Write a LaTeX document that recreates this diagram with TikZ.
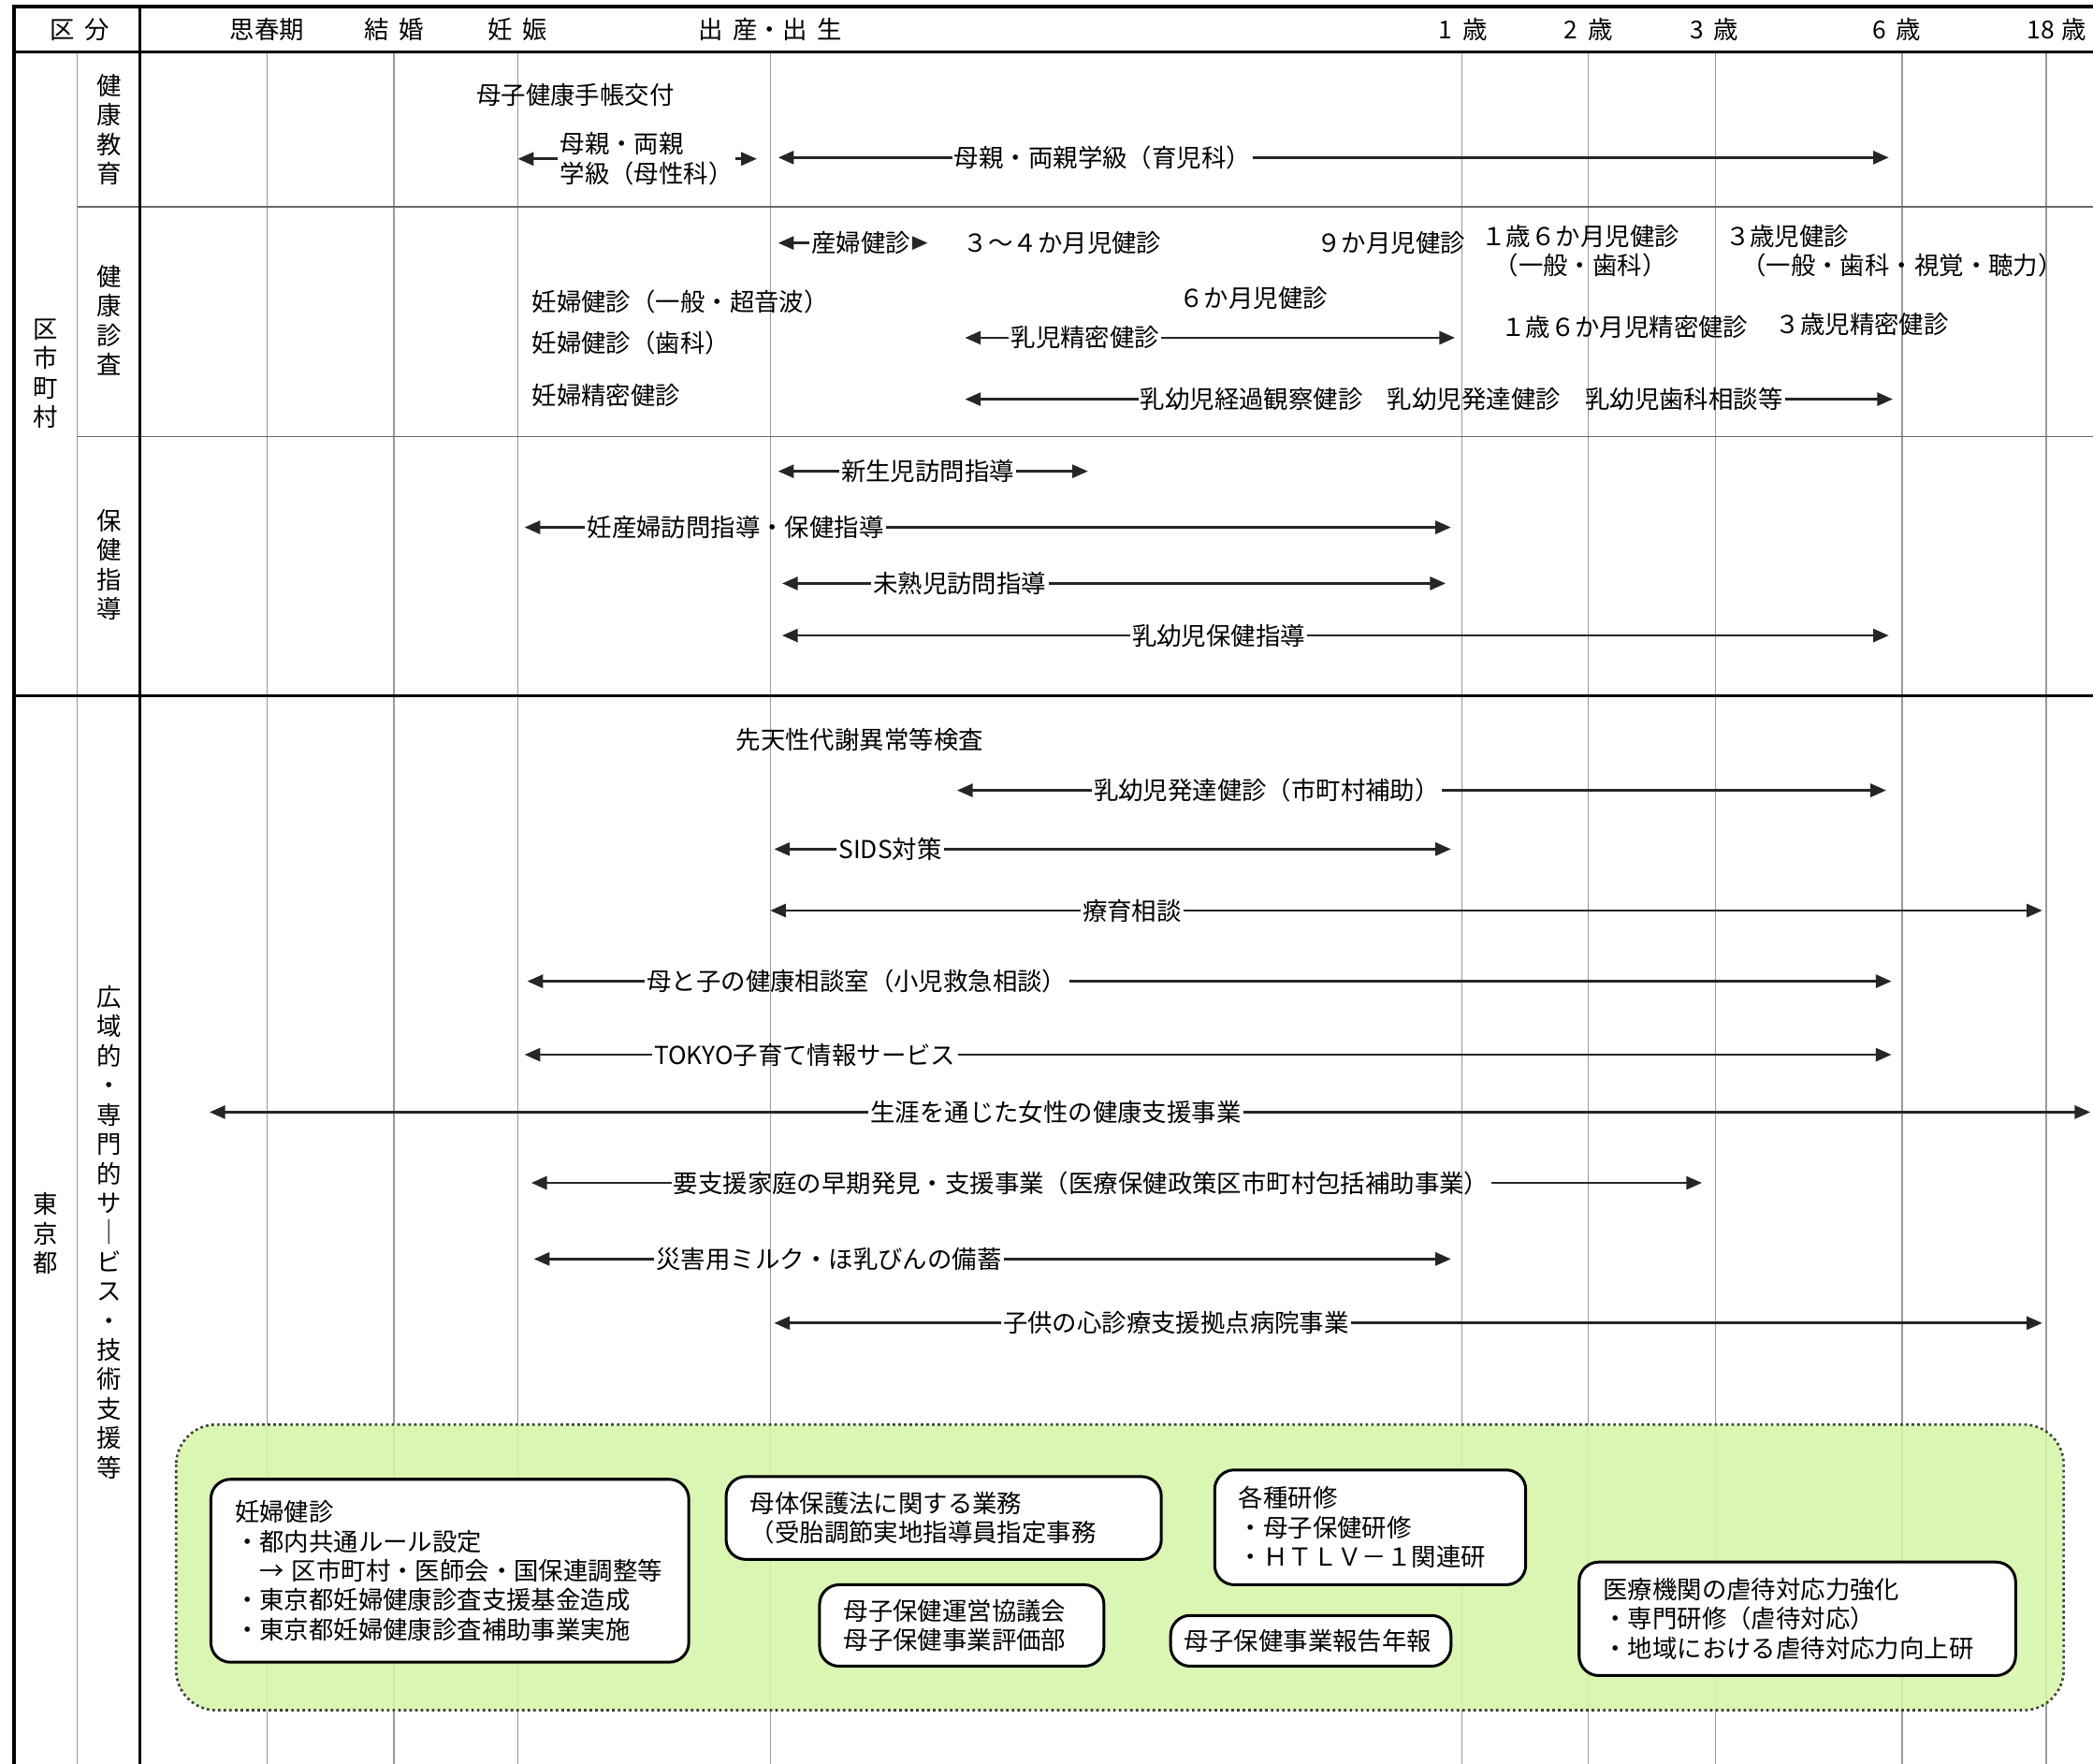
\documentclass[tikz,border=0pt]{standalone}
\usepackage{fontspec}
\setmainfont{Noto Sans CJK JP}
\usepackage{xcolor}
\usepackage{tikz}
\usetikzlibrary{arrows.meta, positioning}

\definecolor{midori}{HTML}{D6F5A8}

\begin{document}
\begin{tikzpicture}[
    x=0.015cm, y=-0.015cm,
    font=\fontsize{7.9pt}{9.4pt}\selectfont,
    >={Triangle[length=5pt, width=4.2pt]},
    lbl/.style={inner sep=0.5pt, align=center},
    lblL/.style={inner sep=0.5pt, align=left, anchor=west},
    tate/.style={inner sep=0pt, align=center},
    seta/.style={->, line width=0.8pt, draw=black!85},
    keisen/.style={draw=black!40, line width=0.4pt},
    wbox/.style={
        rectangle,
        rounded corners=0.22cm,
        draw=black,
        fill=white,
        line width=0.9pt,
        align=left,
        inner xsep=0.27cm,
        inner ysep=0pt
    }
]

    \useasboundingbox (0,0) rectangle (1568,1321);

    % --- Grid ---
    \foreach \gx in {200,295,388,577,1095,1190,1285,1425,1533}
        \draw[keisen] (\gx,39) -- (\gx,1321);
    \draw[keisen] (58,39) -- (58,1321);
    \draw[draw=black!60, line width=0.5pt] (58,155) -- (1568,155);
    \draw[draw=black!60, line width=0.5pt] (58,327) -- (1568,327);
    \draw[line width=0.8pt] (10,521) -- (1568,521);
    \draw[line width=0.9pt] (10,39) -- (1568,39);
    \draw[line width=0.8pt] (105,5) -- (105,1321);
    \draw[line width=1.4pt] (10.5,1321) -- (10.5,5) -- (1568,5);

    % --- Green area ---
    \fill[midori, opacity=0.88, rounded corners=0.45cm] (132,1067) rectangle (1546,1281);
    \draw[densely dotted, line width=0.8pt, draw=black!75, rounded corners=0.45cm] (132,1067) rectangle (1546,1281);

    % --- Header ---
    \node[lbl] (kubun) at (60,22) {区\hspace{0.4em}分};
    \node[lbl] (shishunki) at (200,22) {思春期};
    \node[lbl] (kekkon) at (295,22) {結\hspace{0.4em}婚};
    \node[lbl] (ninshin) at (388,22) {妊\hspace{0.4em}娠};
    \node[lbl] (shussan) at (577,22) {出\hspace{0.4em}産・出\hspace{0.4em}生};
    \node[lbl] (sai1) at (1096,22) {1\hspace{0.4em}歳};
    \node[lbl] (sai2) at (1190,22) {2\hspace{0.4em}歳};
    \node[lbl] (sai3) at (1284,22) {3\hspace{0.4em}歳};
    \node[lbl] (sai6) at (1421,22) {6\hspace{0.4em}歳};
    \node[lbl] (sai18) at (1541,22) {18\hspace{0.3em}歳};

    % --- Left labels ---
    \node[tate] (kushi) at (34,280) {区\\市\\町\\村};
    \node[tate] (toukyou) at (34,924) {東\\京\\都};
    \node[tate] (kyouiku) at (82,97) {健\\康\\教\\育};
    \node[tate] (shinsa) at (82,240) {健\\康\\診\\査};
    \node[tate] (shidou) at (82,423) {保\\健\\指\\導};
    \node[tate] (kouiki) at (82,923) {広\\域\\的\\・\\専\\門\\的\\サ\\｜\\ビ\\ス\\・\\技\\術\\支\\援\\等};

    % --- 1. Health education ---
    \node[lbl] (techou) at (431,71) {母子健康手帳交付};
    \node[lblL] (boseika) at (418,119) {母親・両親\\学級（母性科）};
    \coordinate (boseika-L) at (388,119);
    \coordinate (boseika-R) at (567,119);
    \node[lbl] (ikujika) at (826,118) {母親・両親学級（育児科）};
    \coordinate (ikujika-L) at (583,118);
    \coordinate (ikujika-R) at (1415,118);

    % --- 2. Health checkups ---
    \node[lbl] (sanpu) at (645,182) {産婦健診};
    \coordinate (sanpu-L) at (583,182);
    \coordinate (sanpu-R) at (695,182);
    \node[lbl] (ken34) at (796,182) {３～４か月児健診};
    \node[lbl] (ken9) at (1042,182) {９か月児健診};
    \node[lbl] (ken18) at (1184,188) {１歳６か月児健診\\（一般・歯科）};
    \node[lblL] (ken3) at (1291,188) {３歳児健診\\\hspace{0.65em}（一般・歯科・視覚・聴力）};
    \node[lbl] (ken6) at (939,223) {６か月児健診};
    \node[lblL] (ninpu1) at (397,226) {妊婦健診（一般・超音波）};
    \node[lblL] (ninpu2) at (397,257) {妊婦健診（歯科）};
    \node[lblL] (ninpu3) at (397,296) {妊婦精密健診};
    \node[lbl] (nyuji) at (813,253) {乳児精密健診};
    \coordinate (nyuji-L) at (723,253);
    \coordinate (nyuji-R) at (1090,253);
    \node[lbl] (seimitsu18) at (1217,245) {１歳６か月児精密健診};
    \node[lbl] (seimitsu3) at (1395,243) {３歳児精密健診};
    \node[lbl] (keika) at (1095,299) {乳幼児経過観察健診　乳幼児発達健診　乳幼児歯科相談等};
    \coordinate (keika-L) at (723,299);
    \coordinate (keika-R) at (1418,299);

    % --- 3. Health guidance ---
    \node[lbl] (shinseiji) at (695,353) {新生児訪問指導};
    \coordinate (shinseiji-L) at (583,353);
    \coordinate (shinseiji-R) at (815,353);
    \node[lbl] (houmon) at (551,395) {妊産婦訪問指導・保健指導};
    \coordinate (houmon-L) at (393,395);
    \coordinate (houmon-R) at (1087,395);
    \node[lbl] (mijukuji) at (719,437) {未熟児訪問指導};
    \coordinate (mijukuji-L) at (586,437);
    \coordinate (mijukuji-R) at (1083,437);
    \node[lbl] (hoken) at (913,476) {乳幼児保健指導};
    \coordinate (hoken-L) at (586,476);
    \coordinate (hoken-R) at (1415,476);

    % --- 4. Tokyo ---
    \node[lbl] (taisha) at (644,554) {先天性代謝異常等検査};
    \node[lbl] (hattatsu) at (949,592) {乳幼児発達健診（市町村補助）};
    \coordinate (hattatsu-L) at (717,592);
    \coordinate (hattatsu-R) at (1413,592);
    \node[lbl] (sids) at (667,636) {SIDS対策};
    \coordinate (sids-L) at (580,636);
    \coordinate (sids-R) at (1087,636);
    \node[lbl] (ryouiku) at (848,682) {療育相談};
    \coordinate (ryouiku-L) at (577,682);
    \coordinate (ryouiku-R) at (1530,682);
    \node[lbl] (soudan) at (642,735) {母と子の健康相談室（小児救急相談）};
    \coordinate (soudan-L) at (395,735);
    \coordinate (soudan-R) at (1417,735);
    \node[lbl] (tokyo) at (603,790) {TOKYO子育て情報サービス};
    \coordinate (tokyo-L) at (393,790);
    \coordinate (tokyo-R) at (1417,790);
    \node[lbl] (josei) at (791,833) {生涯を通じた女性の健康支援事業};
    \coordinate (josei-L) at (157,833);
    \coordinate (josei-R) at (1566,833);
    \node[lbl] (youshien) at (810,886) {要支援家庭の早期発見・支援事業（医療保健政策区市町村包括補助事業）};
    \coordinate (youshien-L) at (398,886);
    \coordinate (youshien-R) at (1275,886);
    \node[lbl] (saigai) at (621,943) {災害用ミルク・ほ乳びんの備蓄};
    \coordinate (saigai-L) at (400,943);
    \coordinate (saigai-R) at (1087,943);
    \node[lbl] (kokoro) at (881,991) {子供の心診療支援拠点病院事業};
    \coordinate (kokoro-L) at (580,991);
    \coordinate (kokoro-R) at (1530,991);

    % --- Connections ---
    \foreach \n in {boseika,ikujika,sanpu,nyuji,keika,shinseiji,houmon,mijukuji,hoken,
                    hattatsu,sids,ryouiku,soudan,tokyo,josei,youshien,saigai,kokoro} {
        \draw[seta] (\n.west) -- (\n-L);
        \draw[seta] (\n.east) -- (\n-R);
    }

    % --- 5. Boxes ---
    \node[wbox, text width=4.83cm, minimum height=2.055cm] (ninpuken) at (337,1176.5) {
        妊婦健診\\・都内共通ルール設定\\\hspace{1em}→\hspace{0.3em}区市町村・医師会・国保連調整等\\・東京都妊婦健康診査支援基金造成\\・東京都妊婦健康診査補助事業実施
    };
    \node[wbox, text width=4.35cm, minimum height=0.93cm] (botai) at (707,1137) {
        母体保護法に関する業務\\（受胎調節実地指導員指定事務
    };
    \node[wbox, text width=2.655cm, minimum height=0.915cm] (unei) at (720.5,1217.5) {
        母子保健運営協議会\\母子保健事業評価部
    };
    \node[wbox, text width=2.955cm, minimum height=1.29cm] (kenshu) at (1026.5,1144) {
        各種研修\\・母子保健研修\\・ＨＴＬＶ－１関連研
    };
    \node[wbox, align=center, inner xsep=0.1cm, minimum width=3.15cm, minimum height=0.57cm] (nenpou) at (982,1229) {
        母子保健事業報告年報
    };
    \node[wbox, text width=4.365cm, minimum height=1.275cm] (gyakutai) at (1346.5,1212.5) {
        医療機関の虐待対応力強化\\・専門研修（虐待対応）\\・地域における虐待対応力向上研
    };
\end{tikzpicture}
\end{document}
